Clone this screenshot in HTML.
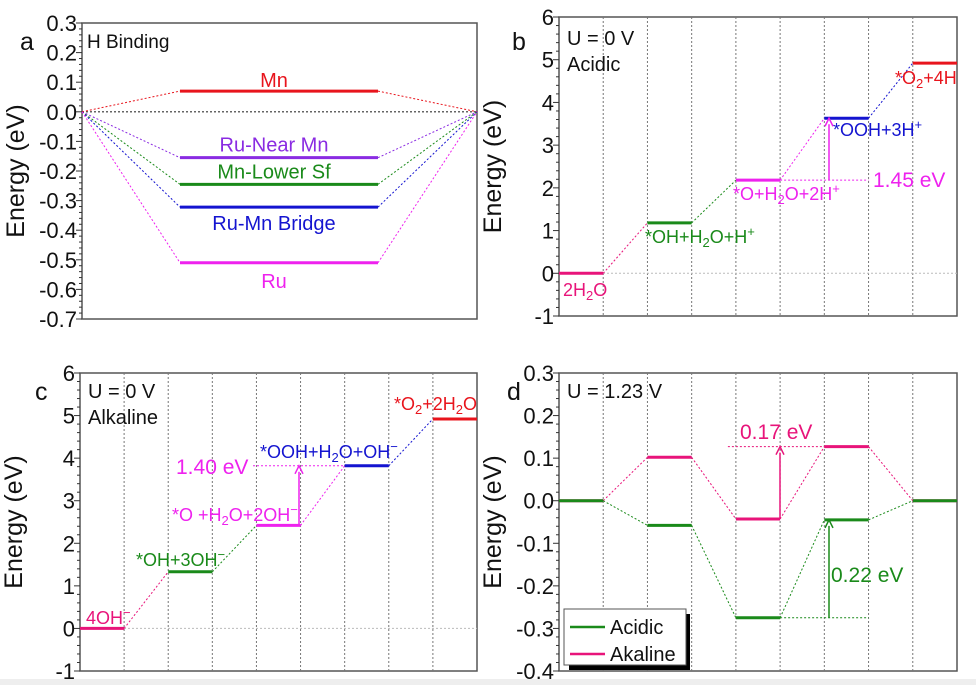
<!DOCTYPE html>
<html><head><meta charset="utf-8"><style>
body{margin:0;background:#fff}
svg{display:block;font-family:"Liberation Sans",Arial,sans-serif}
</style></head><body>
<svg id="s" width="976" height="685" viewBox="0 0 976 685">
<rect x="0" y="679" width="976" height="6" fill="#eeeeee"/>
</svg>
<script>
// Panel a data
const aNames=["Mn","Ru-Near Mn","Mn-Lower Sf","Ru-Mn Bridge","Ru"];
const aValues=[0.07,-0.155,-0.245,-0.322,-0.51];
const aColors=["#e8141c","#8a2be2","#1a8a1a","#1414d0","#ee22ee"];
const aTicks=["0.3","0.2","0.1","0.0","-0.1","-0.2","-0.3","-0.4","-0.5","-0.6","-0.7"];
// Panel b data
const bValues=[0,1.18,2.18,3.63,4.92];
const bColors=["#e8147a","#1a8a1a","#ee22ee","#1414d0","#e8141c"];
const bTicks=["6","5","4","3","2","1","0","-1"];
// Panel c data
const cValues=[0,1.33,2.42,3.82,4.92];
const cColors=["#e8147a","#1a8a1a","#ee22ee","#1414d0","#e8141c"];
// Panel d data
const dAcidic=[0,-0.058,-0.275,-0.045,0];
const dAlkaline=[0,0.102,-0.043,0.127,0];
const dTicks=["0.3","0.2","0.1","0.0","-0.1","-0.2","-0.3","-0.4"];

const S=document.getElementById('s');
const NS='http://www.w3.org/2000/svg';
function el(tag,attrs,txt){const e=document.createElementNS(NS,tag);for(const k in attrs)e.setAttribute(k,attrs[k]);if(txt!==undefined)e.innerHTML=txt;S.appendChild(e);return e;}
function ln(x1,y1,x2,y2,c,w,dash,name){const e=el('line',{x1,y1,x2,y2,stroke:c,'stroke-width':w});if(dash)e.setAttribute('stroke-dasharray',dash);

return e;}
function tx(x,y,t,size,c,anchor,name){const e=el('text',{x,y,'font-size':size,fill:c,'text-anchor':anchor||'start'},t);

return e;}

function axes(L,R,T,B,ticks,ymax,ymin,minorStep,majStep,title,letter,lx,ly){
  const sy=v=>T+(ymax-v)/(ymax-ymin)*(B-T);
  const f=el('rect',{x:L,y:T,width:R-L,height:B-T,fill:'none',stroke:'#555','stroke-width':1.5});
  
  
  const n=Math.round((ymax-ymin)/minorStep);
  for(let i=0;i<=n;i++){const v=ymax-i*minorStep;const y=sy(v);const maj=Math.abs(Math.round(v/majStep)*majStep-v)<1e-6;
    ln(L-(maj?6:3),y,L,y,'#333',1,null,maj?'major-tick':'minor-tick');}
  ticks.forEach(t=>{const v=parseFloat(t);tx(L-5,sy(v)+8,t,22,'#111','end','y-tick-label');});
  const g=tx(0,0,title,25,'#111','middle','y-axis-title');
  g.setAttribute('transform',`translate(${L-58},${(T+B)/2}) rotate(-90)`);
  tx(lx,ly,letter,25,'#111','start','panel-letter');
  return sy;
}

// Panel a
{
 const L=82,R=477,T=23,B=319;
 const sy=axes(L,R,T,B,aTicks,0.3,-0.7,0.02,0.1,'Energy (eV)','a',20,50);
 ln(L,sy(0),R,sy(0),'#333',1.2,'2,2','zero-line');
 tx(87,48,'H Binding',19,'#111','start','panel-title');
 const x1=180,x2=378;
 aValues.forEach((v,i)=>{const y=sy(v),c=aColors[i];
   ln(L,sy(0),x1,y,c,1,'2,2','connector');ln(x2,y,R,sy(0),c,1,'2,2','connector');
   ln(x1,y,x2,y,c,3,null,'level-'+aNames[i].toLowerCase().replace(/ /g,'-'));});
 const lbl=[[0.07,-4],[-0.155,-6],[-0.245,-6],[-0.322,23],[-0.51,25]];
 aNames.forEach((n,i)=>tx(274,sy(aValues[i])+lbl[i][1],n,20,aColors[i],'middle','level-label'));
}
function grid(L,R,T,B){const w=(R-L)/9;for(let i=1;i<9;i++)ln(L+i*w,T,L+i*w,B,'#777',1,'2,2','gridline');return w;}
// Panel b
{
 const L=559,R=957,T=17,B=316;
 const sy=axes(L,R,T,B,bTicks,6,-1,0.2,1,'Energy (eV)','b',512,50);
 const w=grid(L,R,T,B);
 ln(L,sy(0),R,sy(0),'#bbb',1,'2,2','zero-gridline');
 bValues.forEach((v,i)=>{const x=L+2*i*w;ln(x,sy(v),x+w,sy(v),bColors[i],3,null,'step-level');
   if(i<bValues.length-1)ln(x+w,sy(v),x+2*w,sy(bValues[i+1]),bColors[i],1,'2,2','connector');});
 tx(567,45,'U = 0 V',20,'#111','start','potential-label');tx(567,71,'Acidic',20,'#111','start','condition-label');
 tx(563,296,'2H<tspan font-size="13" dy="4">2</tspan><tspan dy="-4">O</tspan>',18,'#e8147a','start','state-label');
 tx(645,243,'*OH+H<tspan font-size="13" dy="4">2</tspan><tspan dy="-4">O+H</tspan><tspan font-size="13" dy="-7">+</tspan>',18,'#1a8a1a','start','state-label');
 tx(733,200,'*O+H<tspan font-size="13" dy="4">2</tspan><tspan dy="-4">O+2H</tspan><tspan font-size="13" dy="-7">+</tspan>',18,'#ee22ee','start','state-label');
 tx(833,136,'*OOH+3H<tspan font-size="13" dy="-7">+</tspan>',18,'#1414d0','start','state-label');
 tx(895,84,'*O<tspan font-size="13" dy="4">2</tspan><tspan dy="-4">+4H</tspan>',18,'#e8141c','start','state-label');
 ln(L+5*w,sy(2.18),L+7*w,sy(2.18),'#ee22ee',1,'2,2','reference-line');
 const ax=829;ln(ax,sy(2.18),ax,sy(3.63)+6,'#ee22ee',1.5,null,'barrier-arrow');
 el('path',{d:`M${ax-4},${sy(3.63)+8} L${ax},${sy(3.63)} L${ax+4},${sy(3.63)+8}`,fill:'none',stroke:'#ee22ee','stroke-width':1.5});
 tx(873,187,'1.45 eV',21,'#ee22ee','start','barrier-label');
}
// Panel c
{
 const L=80,R=477,T=373,B=671;
 const sy=axes(L,R,T,B,bTicks,6,-1,0.2,1,'Energy (eV)','c',35,400);
 const w=grid(L,R,T,B);
 ln(L,sy(0),R,sy(0),'#bbb',1,'2,2','zero-gridline');
 cValues.forEach((v,i)=>{const x=L+2*i*w;ln(x,sy(v),x+w,sy(v),cColors[i],3,null,'step-level');
   if(i<cValues.length-1)ln(x+w,sy(v),x+2*w,sy(cValues[i+1]),cColors[i],1,'2,2','connector');});
 tx(88,398,'U = 0 V',20,'#111','start','potential-label');tx(88,424,'Alkaline',20,'#111','start','condition-label');
 tx(86,624,'4OH<tspan font-size="13" dy="-7">−</tspan>',18,'#e8147a','start','state-label');
 tx(136,566,'*OH+3OH<tspan font-size="13" dy="-7">−</tspan>',18,'#1a8a1a','start','state-label');
 tx(172,521,'*O +H<tspan font-size="13" dy="4">2</tspan><tspan dy="-4">O+2OH</tspan><tspan font-size="13" dy="-7">−</tspan>',18,'#ee22ee','start','state-label');
 tx(260,458,'*OOH+H<tspan font-size="13" dy="4">2</tspan><tspan dy="-4">O+OH</tspan><tspan font-size="13" dy="-7">−</tspan>',18,'#1414d0','start','state-label');
 tx(394,410,'*O<tspan font-size="13" dy="4">2</tspan><tspan dy="-4">+2H</tspan><tspan font-size="13" dy="4">2</tspan><tspan dy="-4">O</tspan>',18,'#e8141c','start','state-label');
 ln(253,sy(3.82),L+6*w,sy(3.82),'#ee22ee',1,'2,2','reference-line');
 const ax=299;ln(ax,sy(2.42),ax,sy(3.82)+6,'#ee22ee',1.5,null,'barrier-arrow');
 el('path',{d:`M${ax-4},${sy(3.82)+8} L${ax},${sy(3.82)} L${ax+4},${sy(3.82)+8}`,fill:'none',stroke:'#ee22ee','stroke-width':1.5});
 tx(176,474,'1.40 eV',21,'#ee22ee','start','barrier-label');
}
// Panel d
{
 const L=559,R=957,T=373,B=671;
 const sy=axes(L,R,T,B,dTicks,0.3,-0.4,0.02,0.1,'Energy (eV)','d',507,400);
 const w=grid(L,R,T,B);
 [[dAlkaline,'#e8147a'],[dAcidic,'#1a8a1a']].forEach(([arr,c])=>{
  arr.forEach((v,i)=>{const x=L+2*i*w;ln(x,sy(v),x+w,sy(v),c,3,null,'step-level');
   if(i<arr.length-1)ln(x+w,sy(v),x+2*w,sy(arr[i+1]),c,1,'2,2','connector');});});
 tx(567,398,'U = 1.23 V',20,'#111','start','potential-label');
 ln(L+4*w-8,sy(dAlkaline[3]),L+6*w,sy(dAlkaline[3]),'#e8147a',1,'2,2','reference-line');
 let ax=780;ln(ax,sy(dAlkaline[2]),ax,sy(dAlkaline[3])+6,'#e8147a',1.5,null,'barrier-arrow');
 el('path',{d:`M${ax-4},${sy(dAlkaline[3])+8} L${ax},${sy(dAlkaline[3])} L${ax+4},${sy(dAlkaline[3])+8}`,fill:'none',stroke:'#e8147a','stroke-width':1.5});
 tx(740,439,'0.17 eV',21,'#e8147a','start','barrier-label');
 ln(L+5*w,sy(dAcidic[2]),L+7*w,sy(dAcidic[2]),'#1a8a1a',1,'2,2','reference-line');
 ax=829;ln(ax,sy(dAcidic[2]),ax,sy(dAcidic[3])+6,'#1a8a1a',1.5,null,'barrier-arrow');
 el('path',{d:`M${ax-4},${sy(dAcidic[3])+8} L${ax},${sy(dAcidic[3])} L${ax+4},${sy(dAcidic[3])+8}`,fill:'none',stroke:'#1a8a1a','stroke-width':1.5});
 tx(831,582,'0.22 eV',21,'#1a8a1a','start','barrier-label');
 const sh=el('rect',{x:569,y:614,width:121,height:56,fill:'#000'});
 
 
 const lb=el('rect',{x:564,y:609,width:122,height:56,fill:'#fff',stroke:'#555','stroke-width':1});
 
 
 ln(570,627,605,627,'#1a8a1a',2.5,null,'legend-swatch-acidic');
 tx(610,634,'Acidic',20,'#111','start','legend-entry-acidic');
 ln(570,654,605,654,'#e8147a',2.5,null,'legend-swatch-alkaline');
 tx(610,661,'Akaline',20,'#111','start','legend-entry-alkaline');
}
</script>
</body></html>
